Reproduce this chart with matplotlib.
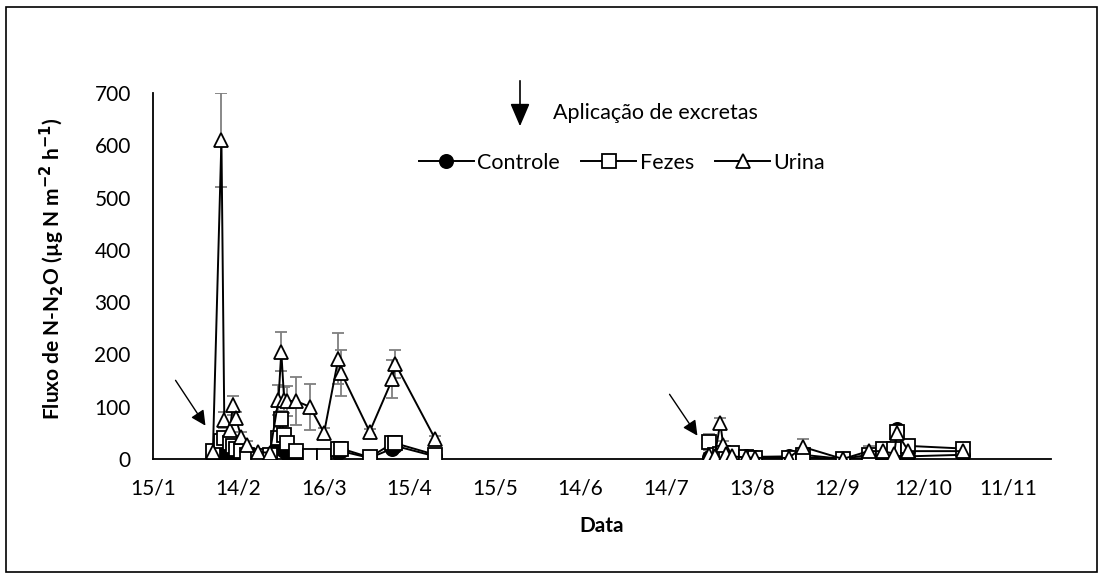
import numpy as np
import matplotlib.pyplot as plt
from matplotlib.patches import Rectangle, FancyArrowPatch
from matplotlib.lines import Line2D

plt.rcParams['font.family'] = ['Lato', 'DejaVu Sans']

# sampling dates (year without 29/2), two measurement periods
dates_1 = ['05/02', '08/02', '09/02', '11/02', '12/02', '13/02', '15/02', '17/02',
           '21/02', '25/02', '28/02', '01/03', '02/03', '03/03', '06/03', '11/03',
           '16/03', '21/03', '22/03', '01/04', '09/04', '10/04', '24/04']
dates_2 = ['29/07', '31/07', '02/08', '03/08', '04/08', '06/08', '11/08', '14/08',
           '26/08', '31/08', '14/09', '23/09', '28/09', '02/10', '03/10', '07/10', '26/10']

controle_1 = [10, 12, 8, 6, 5, 5, 3, 2, 1, 2, 25, 20, 15, 10, 5, 3, 3, 12, 15, 2, 20, 25, 5]
fezes_1 = [15, 35, 40, 30, 25, 20, 15, 8, 5, 8, 40, 77, 45, 31, 15, 5, 5, 20, 20, 3, 30, 30, 8]
urina_1 = [13, 610, 75, 55, 103, 78, 42, 27, 13, 12, 113, 205, 113, 111, 111, 100, 50, 192, 165, 52, 153, 182, 38]
fezes_err_1 = [5, 10, 8, 6, 6, 5, 4, 3, 2, 3, 10, 15, 10, 8, 5, 3, 3, 8, 8, 2, 8, 8, 3]
urina_err_1 = [5, 90, 15, 10, 18, 12, 10, 8, 6, 5, 29, 37, 25, 28, 46, 44, 10, 48, 44, 6, 36, 27, 6]

controle_2 = [3, 2, 5, 4, 3, 3, 5, 4, 5, 3, 0, 2, 4, 5, 58, 5, 8]
fezes_2 = [33, 8, 10, 12, 5, 12, 3, 2, 2, 8, 0, 8, 20, 20, 52, 25, 20]
urina_2 = [7, 5, 69, 27, 10, 5, 3, 2, 2, 23, 0, 15, 15, 10, 50, 15, 15]
fezes_err_2 = [15, 3, 5, 5, 3, 3, 2, 1, 1, 4, 0, 4, 5, 5, 8, 5, 3]
urina_err_2 = [5, 3, 10, 8, 5, 3, 2, 1, 1, 15, 0, 10, 5, 5, 8, 5, 3]

tick_labels = ['15/1', '14/2', '16/3', '15/4', '15/5', '14/6', '14/7', '13/8', '12/9', '12/10', '11/11']


def to_day(d):
    # days since 15/1
    day, month = [int(v) for v in d.split('/')]
    t = np.datetime64('2017-%02d-%02d' % (month, day))
    return (t - np.datetime64('2017-01-15')).astype(int)


fig = plt.figure(figsize=(11.04, 5.79), dpi=100)
ax = fig.add_axes([0.1386, 0.2073, 0.8134, 0.6321])

err_kw = dict(ecolor='#7f7f7f', elinewidth=1.3, capsize=4.5, capthick=1.3)
line_kw = dict(color='black', linewidth=1.4, markeredgecolor='black',
               markeredgewidth=1.3, markersize=9.5)

for dates, c, f, u, fe, ue in [(dates_1, controle_1, fezes_1, urina_1, fezes_err_1, urina_err_1),
                               (dates_2, controle_2, fezes_2, urina_2, fezes_err_2, urina_err_2)]:
    x = [to_day(d) for d in dates]
    ax.plot(x, c, marker='o', markerfacecolor='black', zorder=3, **line_kw)
    ax.errorbar(x, f, yerr=fe, fmt='none', zorder=2, **err_kw)
    ax.plot(x, f, marker='s', markerfacecolor='white', zorder=4, **line_kw)
    ax.errorbar(x, u, yerr=ue, fmt='none', zorder=2, **err_kw)
    ax.plot(x, u, marker='^', markerfacecolor='white', zorder=5, **line_kw)

ax.set_xlim(0, 315)
ax.set_ylim(0, 700)
ax.set_xticks(np.arange(len(tick_labels)) * 30)
ax.set_xticklabels(tick_labels)
ax.set_yticks(np.arange(0, 701, 100))
ax.tick_params(length=0, labelsize=15)
ax.tick_params(axis='x', pad=14)
ax.tick_params(axis='y', pad=16)
ax.spines['top'].set_visible(False)
ax.spines['right'].set_visible(False)
ax.spines['left'].set_linewidth(1.3)
ax.spines['bottom'].set_linewidth(1.3)
ax.spines['bottom'].set_zorder(1)

ax.set_ylabel(r'Fluxo de N-N$_\mathbf{2}$O (µg N m$^\mathbf{-2}$ h$^\mathbf{-1}$)',
              fontsize=15, fontweight='bold')
ax.yaxis.set_label_coords(-0.096, 0.52)
ax.set_xlabel('Data', fontsize=15, fontweight='bold')
ax.xaxis.set_label_coords(0.5, -0.155)

# application arrows
for (x0, y0), (x1, y1) in [((174, 378), (207, 428)), ((668, 392), (699, 438))]:
    fig.patches.append(FancyArrowPatch((x0, 579 - y0), (x1, 579 - y1), transform=None,
                                       arrowstyle='-|>,head_length=9,head_width=4.5',
                                       color='black', linewidth=1, mutation_scale=1))

# legend-like annotation
fig.patches.append(FancyArrowPatch((520, 579 - 78), (520, 579 - 129), transform=None,
                                   arrowstyle='-|>,head_length=14,head_width=6',
                                   color='black', linewidth=1.2, mutation_scale=1))
fig.text(553 / 1104, 1 - 113 / 579, 'Aplicação de excretas', fontsize=15.5, va='center')

handles = [Line2D([], [], marker='o', markerfacecolor='black', **line_kw),
           Line2D([], [], marker='s', markerfacecolor='white', **line_kw),
           Line2D([], [], marker='^', markerfacecolor='white', **line_kw)]
fig.legend(handles, ['Controle', 'Fezes', 'Urina'], loc='center', ncol=3,
           bbox_to_anchor=(622 / 1104, 1 - 163 / 579), frameon=False, fontsize=15.5,
           handlelength=2.55, handletextpad=0.15, columnspacing=1.0)

fig.patches.append(Rectangle((6 / 1104, 7 / 579), 1091 / 1104, 565 / 579,
                             transform=fig.transFigure, fill=False,
                             edgecolor='black', linewidth=1.2))

fig.savefig('out.png', dpi=100)
